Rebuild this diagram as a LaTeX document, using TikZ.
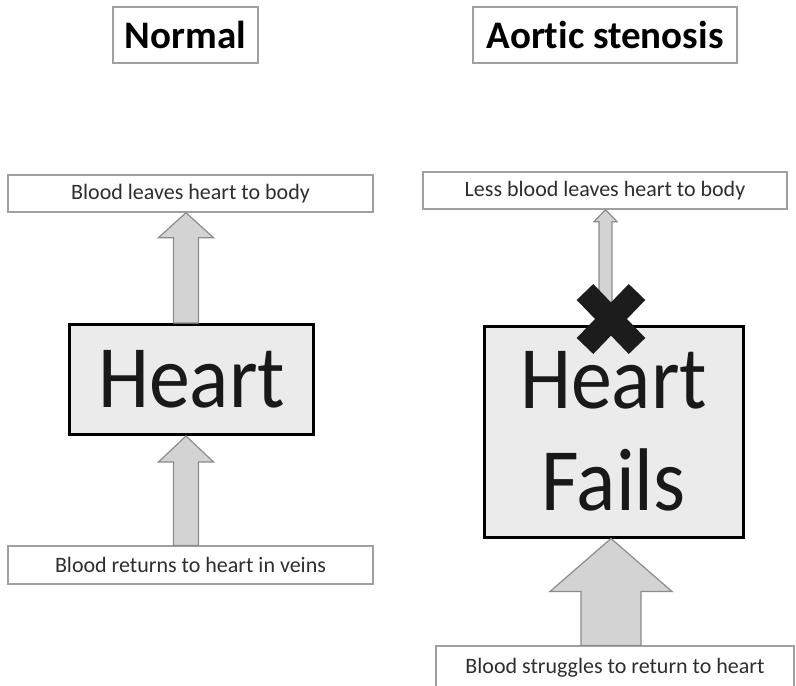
\documentclass[tikz,border=0pt]{standalone}
\usepackage{fontspec}
\setmainfont{Carlito}[Ligatures=NoCommon]
\newfontfamily\heartfont{Carlito}[FakeStretch=0.92]
\usetikzlibrary{calc}
\definecolor{boxgray}{HTML}{A0A0A0}
\definecolor{lbltext}{HTML}{2E2E2E}
\definecolor{heartfill}{HTML}{EBEBEB}
\definecolor{arrowfill}{HTML}{D3D3D3}
\definecolor{arrowline}{HTML}{8C8C8C}
\definecolor{crossblack}{HTML}{1C1C1C}
\newcommand{\upblock}[5]{%
  \draw[blockarrow] (#1) -- ($(#1)+(#4,#3)$) -- ($(#1)+(#5,#3)$) -- ($(#2)+(#5,0)$)
    -- ($(#2)+(-#5,0)$) -- ($(#1)+(-#5,#3)$) -- ($(#1)+(-#4,#3)$) -- cycle;}
\begin{document}
\begin{tikzpicture}[x=1pt,y=-1pt,
  titlebox/.style={draw=boxgray, line width=1.3pt, fill=white, inner sep=0pt,
    font=\fontsize{39}{44}\selectfont\bfseries, text=black},
  lblbox/.style={draw=boxgray, line width=1.3pt, fill=white, inner sep=0pt,
    font=\fontsize{22}{26}\selectfont, text=lbltext},
  heartbox/.style={draw=black, line width=3pt, fill=heartfill, inner sep=0pt,
    font=\heartfont\fontsize{89}{102}\selectfont, text=black!90, align=center},
  blockarrow/.style={draw=arrowline, line width=1.2pt, fill=arrowfill, line join=miter},
  crossbar/.style={draw=crossblack, line width=23pt, line cap=butt}]
\useasboundingbox (0,0) rectangle (796,686);
\fill[white] (0,0) rectangle (796,686);

% titles
\node[titlebox, minimum width=145, minimum height=56] (tN) at (185.5,35) {Normal};
\node[titlebox, minimum width=264, minimum height=56] (tA) at (605,35) {Aortic stenosis};

% left column
\node[lblbox, minimum width=365, minimum height=37] (Ltop) at (190.5,193.5) {Blood leaves heart to body};
\node[heartbox, minimum width=244, minimum height=110] (Lheart) at (191.5,379.5) {Heart};
\node[lblbox, minimum width=365, minimum height=38] (Lbot) at (190.5,565) {Blood returns to heart in veins};

% right column
\node[lblbox, minimum width=364, minimum height=37] (Rtop) at (605,190.5) {Less blood leaves heart to body};
\node[heartbox, minimum width=259, minimum height=211] (Rheart) at (613.5,431.5) {Heart\\Fails};
\node[lblbox, minimum width=358, minimum height=44] (Rbot) at (615,668) {Blood struggles to return to heart};

% arrow axes
\coordinate (ax1) at (186,0);
\coordinate (ax2) at (605.5,0);
\coordinate (ax3) at (611,0);

\coordinate (t1) at (Ltop.south -| ax1);
\coordinate (b1) at (Lheart.north -| ax1);
\coordinate (t2) at (Lheart.south -| ax1);
\coordinate (b2) at (Lbot.north -| ax1);
\coordinate (t3) at (Rtop.south -| ax2);
\coordinate (b3) at (Rheart.north -| ax2);
\coordinate (t4) at (Rheart.south -| ax3);
\coordinate (b4) at (Rbot.north -| ax3);

\upblock{t1}{b1}{25}{27.5}{12.5}
\upblock{t2}{b2}{26}{27.5}{12.5}
\upblock{t3}{b3}{12}{11.5}{6.5}
\upblock{t4}{b4}{53}{61}{30}

% cross mark
\coordinate (xc) at (611,319);
\draw[crossbar] ($(xc)+(-26,-27)$) -- ($(xc)+(26,27)$);
\draw[crossbar] ($(xc)+(-26,27)$) -- ($(xc)+(26,-27)$);
\end{tikzpicture}
\end{document}
